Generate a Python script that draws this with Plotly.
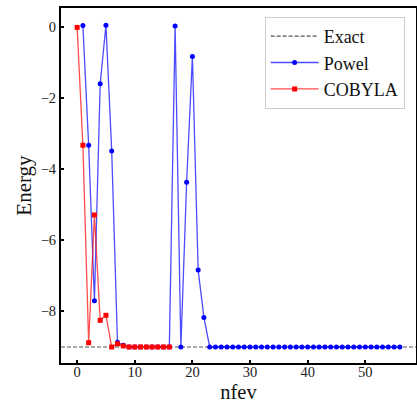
import plotly.graph_objects as go

# Data
powel_nfev = list(range(1, 57))
powel_energy = [0.03, -3.33, -7.70, -1.60, 0.04, -3.49, -8.87, -8.95,
                -9.0, -9.0, -9.0, -9.0, -9.0, -9.0, -9.0, -9.0,
                0.02, -9.0, -4.37, -0.84, -6.84, -8.17] + [-9.0] * 34
cobyla_nfev = list(range(0, 17))
cobyla_energy = [-0.02, -3.33, -8.88, -5.29, -8.25, -8.11, -9.0, -8.91, -8.97,
                 -9.0, -9.0, -9.0, -9.0, -9.0, -9.0, -9.0, -9.0]
exact_energy = -9.0
x_ticks = [0, 10, 20, 30, 40, 50]
y_ticks = [0, -2, -4, -6, -8]

FONT = "Liberation Serif"

fig = go.Figure()
fig.add_trace(go.Scatter(x=[None], y=[None], mode="lines", name="Exact",
                         line=dict(color="#555555", width=1.2, dash="4px,2px")))
fig.add_trace(go.Scatter(x=powel_nfev, y=powel_energy, mode="lines+markers", name="Powel",
                         line=dict(color="rgba(0,0,255,0.7)", width=1.3),
                         marker=dict(color="#0000ff", size=5, symbol="circle")))
fig.add_trace(go.Scatter(x=cobyla_nfev, y=cobyla_energy, mode="lines+markers", name="COBYLA",
                         line=dict(color="rgba(255,0,0,0.7)", width=1.3),
                         marker=dict(color="#ff0000", size=5, symbol="square")))
fig.add_hline(y=exact_energy, line=dict(color="#555555", width=1.2, dash="4px,2px"), layer="below")

axis_common = dict(showline=True, linewidth=2, linecolor="black", mirror=True,
                   showgrid=False, zeroline=False, ticks="inside", ticklen=3,
                   tickwidth=1.5, tickcolor="black",
                   tickfont=dict(family=FONT, size=14.5, color="#222"))

fig.update_xaxes(range=[-2.8, 58.8], tickvals=x_ticks, ticklabelstandoff=-5,
                 title=dict(text="nfev", font=dict(family=FONT, size=20.5, color="#111"), standoff=9),
                 **axis_common)
fig.update_yaxes(range=[-9.45, 0.525], tickvals=y_ticks,
                 title=dict(text="Energy", font=dict(family=FONT, size=21, color="#111"), standoff=3),
                 **axis_common)

fig.update_layout(
    width=417, height=403,
    margin=dict(l=61, r=1, t=8, b=40, autoexpand=False),
    plot_bgcolor="white", paper_bgcolor="white",
    legend=dict(x=0.968, xanchor="right", y=0.975, yanchor="top",
                font=dict(family=FONT, size=18, color="#111"),
                bgcolor="white", bordercolor="#cccccc", borderwidth=1,
                itemwidth=48),
)

fig.write_html("out.html", config={"displayModeBar": False},
               post_script="document.body.style.margin='0';document.body.style.padding='0';document.body.style.overflow='hidden';")
